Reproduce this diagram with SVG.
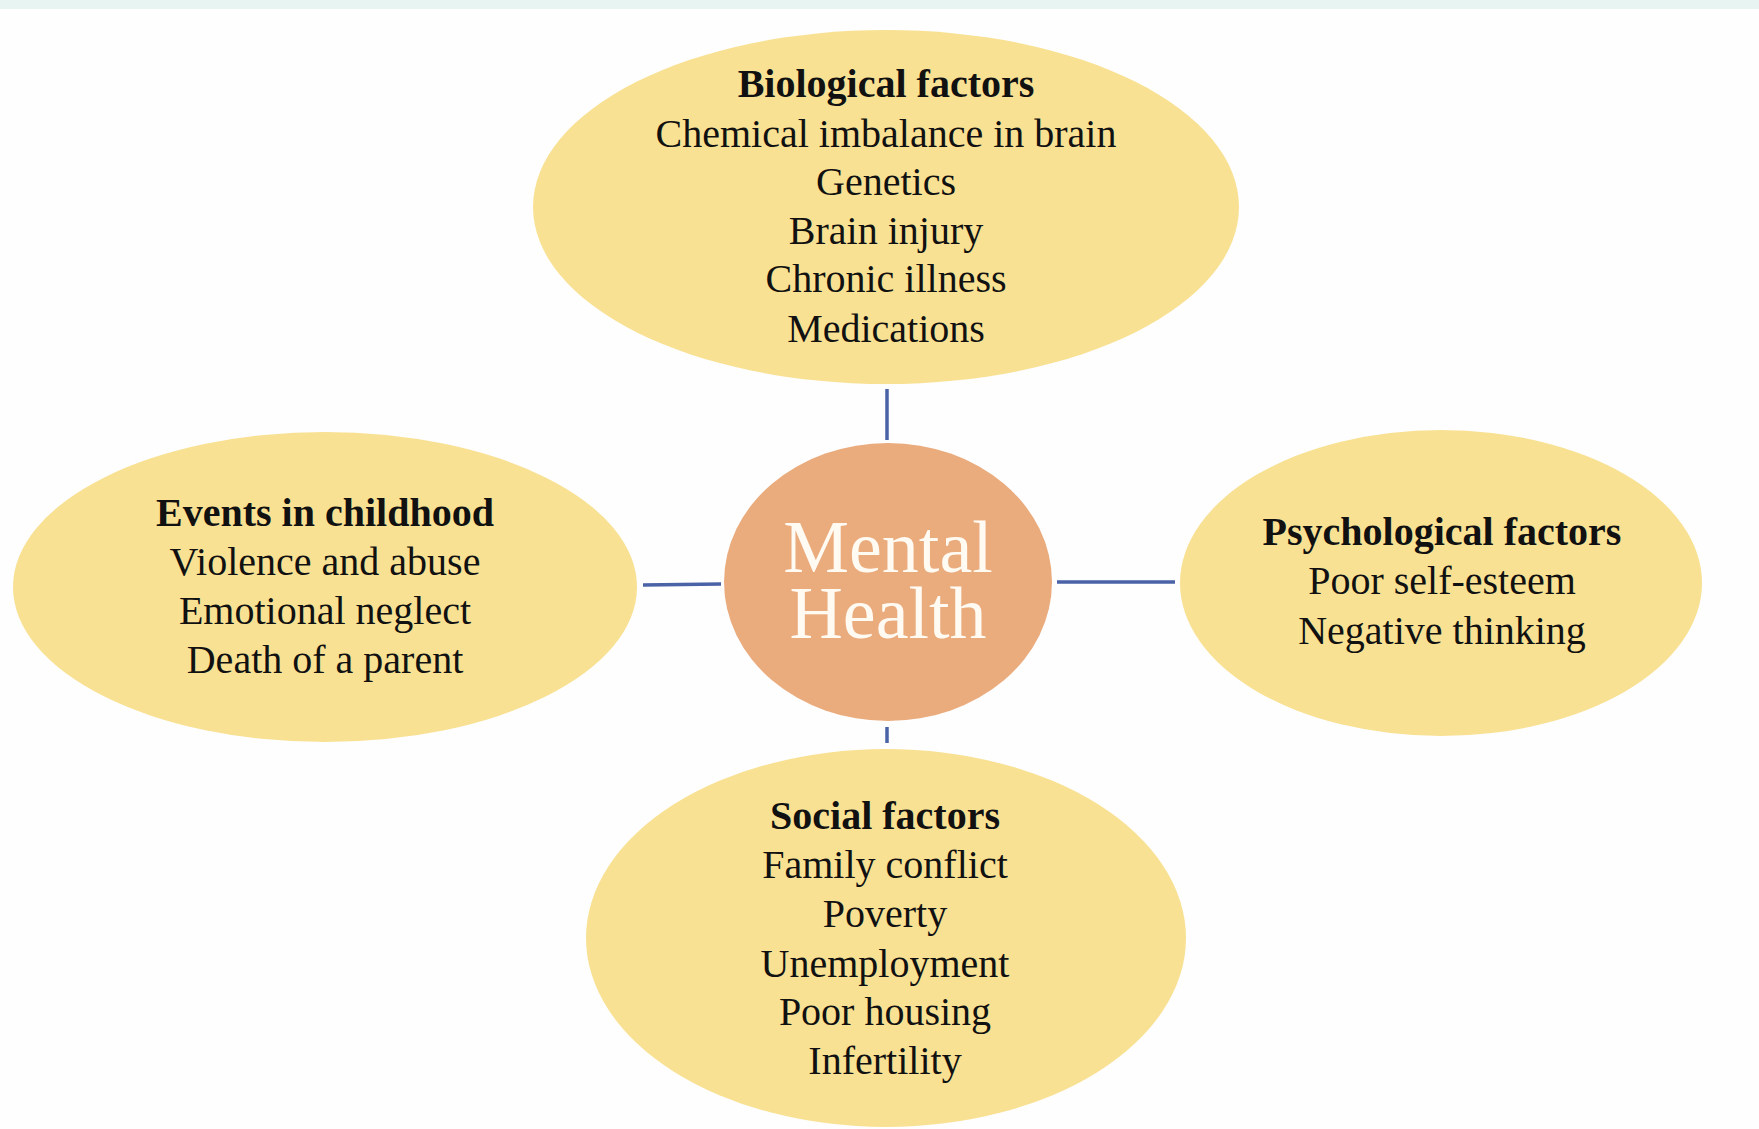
<svg xmlns="http://www.w3.org/2000/svg" width="1759" height="1129" viewBox="0 0 1759 1129">
<style>
.bub{fill:#f9e193;}
.hub{fill:#eaab7d;}
.t{font-family:"Liberation Serif","Times New Roman",serif;font-size:40px;fill:#111;text-anchor:middle;}
.h{font-weight:bold;}
.c{font-family:"Liberation Serif","Times New Roman",serif;font-size:74px;fill:#fffaf2;text-anchor:middle;}
.ln{stroke:#4a62a6;stroke-width:3.5;fill:none;}
</style>
<rect x="0" y="0" width="1759" height="1129" fill="#fefefe"/>
<rect x="0" y="0" width="1759" height="9" fill="#e8f4f2"/>
<g id="connectors">
<line class="ln" x1="887" y1="389" x2="887" y2="440"/>
<line class="ln" x1="643" y1="585" x2="721" y2="584"/>
<line class="ln" x1="1057" y1="582" x2="1175" y2="582"/>
<line class="ln" x1="887" y1="727" x2="887" y2="743"/>
</g>
<g id="biological">
<ellipse class="bub" cx="886" cy="207" rx="353" ry="177"/>
<text class="t h" x="886" y="97">Biological factors</text>
<text class="t" x="886" y="147">Chemical imbalance in brain</text>
<text class="t" x="886" y="195">Genetics</text>
<text class="t" x="886" y="244">Brain injury</text>
<text class="t" x="886" y="292">Chronic illness</text>
<text class="t" x="886" y="342">Medications</text>
</g>
<g id="mental-health">
<ellipse class="hub" cx="888" cy="582" rx="164" ry="139"/>
<text class="c" x="888" y="572">Mental</text>
<text class="c" x="888" y="638">Health</text>
</g>
<g id="childhood">
<ellipse class="bub" cx="325" cy="587" rx="312" ry="155"/>
<text class="t h" x="325" y="526">Events in childhood</text>
<text class="t" x="325" y="575">Violence and abuse</text>
<text class="t" x="325" y="624">Emotional neglect</text>
<text class="t" x="325" y="673">Death of a parent</text>
</g>
<g id="psychological">
<ellipse class="bub" cx="1441" cy="583" rx="261" ry="153"/>
<text class="t h" x="1442" y="545">Psychological factors</text>
<text class="t" x="1442" y="594">Poor self-esteem</text>
<text class="t" x="1442" y="644">Negative thinking</text>
</g>
<g id="social">
<ellipse class="bub" cx="886" cy="938" rx="300" ry="189"/>
<text class="t h" x="885" y="829">Social factors</text>
<text class="t" x="885" y="878">Family conflict</text>
<text class="t" x="885" y="927">Poverty</text>
<text class="t" x="885" y="977">Unemployment</text>
<text class="t" x="885" y="1025">Poor housing</text>
<text class="t" x="885" y="1074">Infertility</text>
</g>
</svg>
